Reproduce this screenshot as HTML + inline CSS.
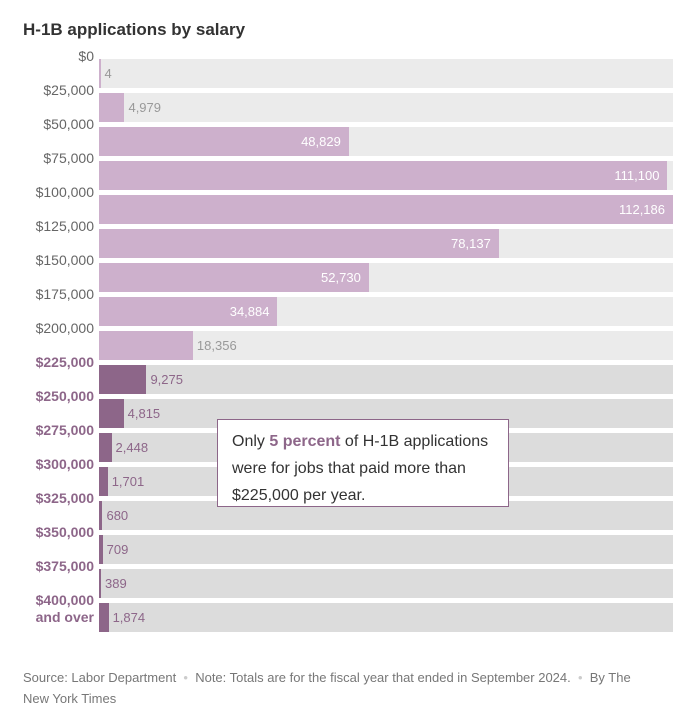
<!DOCTYPE html>
<html><head><style>
body{margin:0;width:700px;height:714px;background:#fff;font-family:"Liberation Sans",sans-serif;position:relative;overflow:hidden}
.t{position:absolute;left:23px;top:20px;font-size:17px;font-weight:bold;color:#333}
.row{position:absolute;left:99px;width:574px;height:29px}
.bar{position:absolute;left:0;top:0;height:29px}
.v{position:absolute;top:7px;font-size:13px}
.lab{position:absolute;right:606px;font-size:14px;color:#666;white-space:nowrap}
.lab.b{color:#8d6689;font-weight:bold}
.box{position:absolute;left:217px;top:419px;width:292px;height:88px;border:1px solid #8d6689;background:#fff;box-sizing:border-box;padding:8px 14px;font-size:16px;line-height:27px;color:#333}
.f{position:absolute;left:23px;top:667px;width:640px;font-size:13px;line-height:21px;color:#777}
</style></head><body>
<div class="t">H-1B applications by salary</div>
<div id="c"></div>
<div class="box">Only <b style="color:#8d6689">5 percent</b> of H-1B applications were for jobs that paid more than $225,000 per year.</div>
<div class="f">Source: Labor Department <span style="color:#ccc">&nbsp;•&nbsp;</span> Note: Totals are for the fiscal year that ended in September 2024. <span style="color:#ccc">&nbsp;•&nbsp;</span> By The<br>New York Times</div>
<script>
var vals=[4,4979,48829,111100,112186,78137,52730,34884,18356,9275,4815,2448,1701,680,709,389,1874];
var labs=["$0","$25,000","$50,000","$75,000","$100,000","$125,000","$150,000","$175,000","$200,000","$225,000","$250,000","$275,000","$300,000","$325,000","$350,000","$375,000","$400,000"];
var h="";
for(var i=0;i<17;i++){
 var y=59+i*34, dark=i>=9, w=Math.max(1.5,vals[i]/112186*574);
 var s=vals[i].toLocaleString("en-US");
 h+='<div class="row" style="top:'+y+'px;background:'+(dark?'#dcdcdc':'#ebebeb')+'"><div class="bar" style="width:'+w+'px;background:'+(dark?'#8d6689':'#cdb0cc')+'"></div>';
 if(w>120) h+='<div class="v" style="right:'+(574-w+8)+'px;color:#fff">'+s+'</div>';
 else h+='<div class="v" style="left:'+(w+4)+'px;color:'+(dark?'#8d6689':'#999')+'">'+s+'</div>';
 h+='</div>';
 h+='<div class="lab'+(dark?' b':'')+'" style="top:'+(y-11)+'px">'+labs[i]+'</div>';
}
h+='<div class="lab b" style="top:609px">and over</div>';
document.getElementById("c").innerHTML=h;
</script>
</body></html>
